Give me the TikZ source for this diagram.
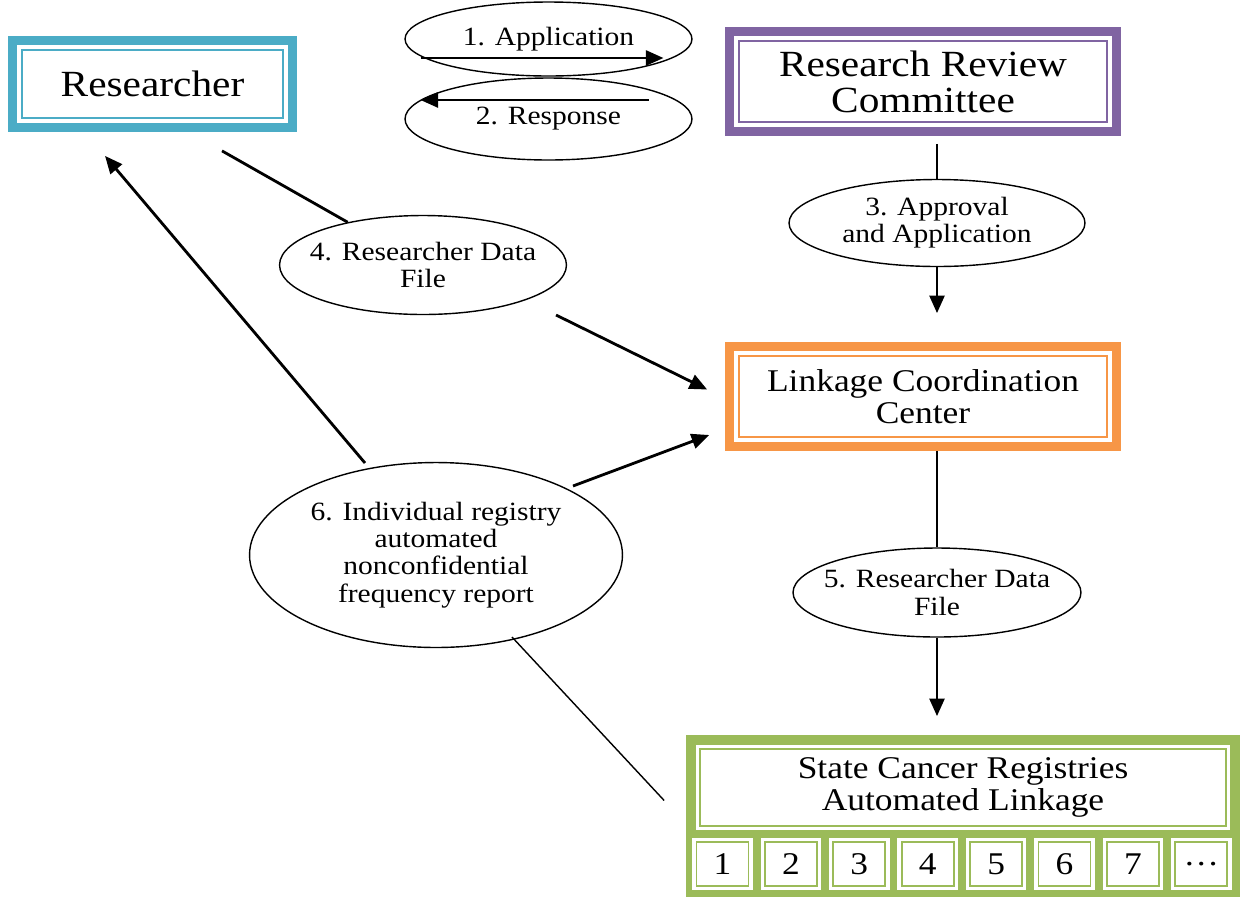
\documentclass[tikz,border=0pt]{standalone}
\usepackage{fontspec}
\setmainfont[FakeStretch=1.12]{Liberation Serif}
\usetikzlibrary{positioning, arrows.meta, calc, shapes.geometric}
\definecolor{resblue}{HTML}{4BACC6}
\definecolor{rrcpurple}{HTML}{8064A2}
\definecolor{lccorange}{HTML}{F79646}
\definecolor{scrgreen}{HTML}{9BBB59}

\begin{document}
\begin{tikzpicture}[
	% one unit is one pixel of the page, y runs downwards
	x=0.02cm, y=-0.02cm,
	% Style for the framed party boxes
	party/.style={
		rectangle,
		draw=#1,
		line width=1pt,
		fill=white,
		preaction={draw=white, line width=5pt},
		align=center,
		inner sep=0pt,
		font=\fontsize{21}{20.5}\selectfont
	},
	% Smaller text for the lower boxes
	partysmall/.style={
		party=#1,
		font=\fontsize{18}{18.5}\selectfont
	},
	% Style for the registry cells
	cell/.style={
		partysmall=scrgreen,
		minimum width=1.04cm,
		minimum height=0.88cm
	},
	% Style for the numbered step ellipses
	stage/.style={
		ellipse,
		draw=black,
		line width=0.8pt,
		align=center,
		inner xsep=-8pt,
		inner ysep=-3pt,
		font=\fontsize{15}{15.5}\selectfont
	},
	arrow/.style={
		line width=1.6pt,
		-{Triangle[length=10pt, width=8.5pt]}
	},
	link/.style={line width=1.6pt},
	thinlink/.style={line width=0.8pt}
	]
	\useasboundingbox (0,0) rectangle (1244,897);
	
	% Green base of the registry block
	\fill[scrgreen] (686,735) rectangle (1240,897);
	
	% The parties
	\node[party=resblue, minimum width=5.22cm, minimum height=1.36cm] (R) at (152.5,84) {Researcher};
	\node[party=rrcpurple, minimum width=7.36cm, minimum height=1.62cm] (RRC) at (923,81.5) {Research Review\\Committee};
	\node[partysmall=lccorange, minimum width=7.36cm, minimum height=1.62cm] (LCC) at (923,396.5) {Linkage Coordination\\Center};
	\node[partysmall=scrgreen, minimum width=10.52cm, minimum height=1.54cm] (SCR) at (963,787.5) {State Cancer Registries\\Automated Linkage};
	
	% Registry cells along the bottom
	\foreach \i/\lbl in {0/1, 1/2, 2/3, 3/4, 4/5, 5/6, 6/7, 7/…}{
		\node[cell] (c\i) at (722.5+68.4*\i, 864) {\lbl};
	}
	
	% Thick outer frames
	\foreach \n/\c in {R/resblue, RRC/rrcpurple, LCC/lccorange}{
		\draw[\c, line width=0.18cm] ($(\n.north west)+(-8.5,-8.5)$) rectangle ($(\n.south east)+(8.5,8.5)$);
	}
	
	% The steps
	\node[stage, minimum width=5.74cm, minimum height=1.48cm] (app) at (548.5,39) {1. Application}; % 1
	\node[stage, minimum width=5.74cm, minimum height=1.64cm] (resp) at (548.5,119) {2. Response}; % 2
	\node[stage, minimum width=5.92cm, minimum height=1.74cm] (apr) at (937,223) {3. Approval\\and Application}; % 3
	\node[stage, minimum width=5.74cm, minimum height=1.98cm] (rdf1) at (423,265) {4. Researcher Data\\File}; % 4
	\node[stage, minimum width=5.76cm, minimum height=1.78cm] (rdf2) at (937,592.5) {5. Researcher Data\\File}; % 5
	\node[stage, minimum width=7.46cm, minimum height=3.7cm] (freq) at (436,555) {6. Individual registry\\automated\\nonconfidential\\frequency report}; % 6
	
	% Researcher and committee
	\draw[arrow] ($(app)+(-128,19)$) -- ($(app)+(115,19)$);
	\draw[arrow] ($(resp)+(100,-19)$) -- ($(resp)+(-128,-19)$);
	
	% Committee down to the registries
	\draw[link] ($(apr.north |- RRC.south)+(0,21)$) -- (apr.north);
	\draw[arrow] (apr.south) -- ($(apr.south |- LCC.north)+(0,-42)$);
	\draw[thinlink] ($(rdf2.north |- LCC.south)+(0,13)$) -- (rdf2.north);
	\draw[arrow] (rdf2.south) -- ($(rdf2.south |- SCR.north)+(0,-32)$);
	
	% Researcher data file
	\draw[link] ($(R.south)+(69.5,32)$) -- (rdf1);
	\draw[arrow] ($(rdf1)+(133,50)$) -- ($(LCC.west)+(-31,-7)$);
	
	% Frequency report
	\draw[arrow] ($(freq)+(-71,-92)$) -- ($(R.south)+(-47.5,37)$);
	\draw[arrow] ($(freq)+(137,-69)$) -- ($(LCC.west)+(-29,38.5)$);
	\draw[thinlink] ($(freq)+(76,82)$) -- ($(SCR.west)+(-35,13)$);
	
\end{tikzpicture}
\end{document}
